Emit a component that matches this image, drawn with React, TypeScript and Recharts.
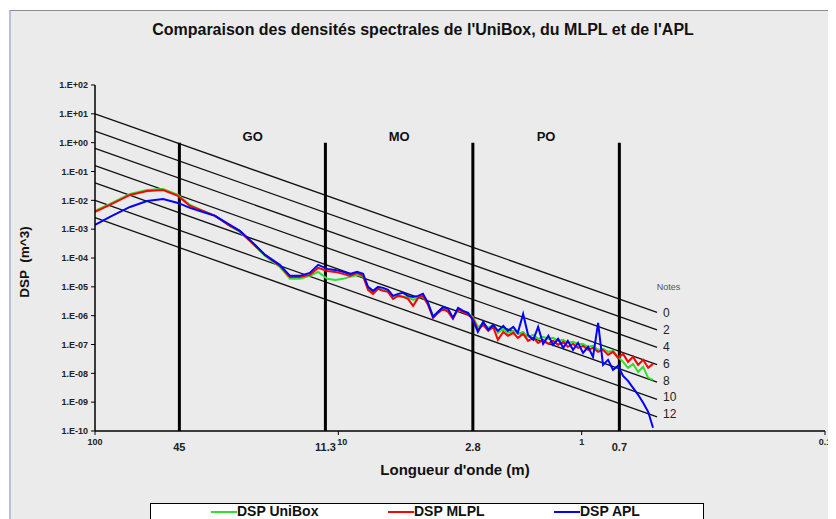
import React from 'react';
import { LineChart, Line, XAxis, YAxis, ReferenceLine, ReferenceDot } from 'recharts';

const WAVELENGTH = [100, 86.8, 71.8, 61.1, 52.5, 45.6, 40.7, 36.0, 32.1, 27.9,
  25.4, 23.1, 20.0, 17.4, 15.8, 14.4, 13.1, 12.1, 11.1, 10.3,
  9.57, 8.95, 8.38, 7.91, 7.55, 7.20, 6.87, 6.55, 6.25, 5.96,
  5.68, 5.42, 5.17, 4.93, 4.70, 4.49, 4.28, 4.08, 3.89, 3.71,
  3.54, 3.38, 3.22, 3.07, 2.93,
  2.80, 2.67, 2.54, 2.42, 2.31, 2.21, 2.10, 2.01, 1.91, 1.83,
  1.74, 1.66, 1.58, 1.51, 1.44, 1.37, 1.31, 1.25, 1.19, 1.14,
  1.085, 1.035, 0.987, 0.941, 0.898, 0.856, 0.817, 0.779, 0.743, 0.709,
  0.676, 0.645, 0.615, 0.586, 0.559, 0.533, 0.509];

const DSP_UNIBOX = [4.30e-3, 7.50e-3, 1.67e-2, 2.29e-2, 2.48e-2, 1.54e-2, 6.93e-3, 4.30e-3, 2.88e-3, 1.30e-3,
  8.04e-4, 3.92e-4, 1.18e-4, 4.92e-5, 1.89e-5, 1.89e-5, 2.40e-5, 3.30e-5, 1.89e-5, 1.74e-5,
  1.89e-5, 2.21e-5, 2.59e-5, 2.21e-5, 8.49e-6, 6.68e-6, 8.49e-6, 7.83e-6, 7.24e-6, 4.85e-6,
  5.26e-6, 4.49e-6, 4.49e-6, 3.53e-6, 4.14e-6, 4.49e-6, 2.56e-6, 9.84e-7, 1.36e-6, 1.86e-6,
  1.47e-6, 8.39e-7, 1.59e-6, 1.36e-6, 1.15e-6,
  9.08e-7, 4.09e-7, 5.20e-7, 3.78e-7, 4.80e-7, 2.54e-7, 3.48e-7, 2.54e-7, 2.97e-7, 2.34e-7,
  2.74e-7, 1.84e-7, 2.16e-7, 1.57e-7, 1.84e-7, 1.57e-7, 1.70e-7, 1.34e-7, 1.45e-7, 1.14e-7,
  1.24e-7, 1.05e-7, 1.05e-7, 8.30e-8, 8.98e-8, 6.53e-8, 7.06e-8, 5.56e-8, 6.03e-8, 3.73e-8,
  2.51e-8, 1.55e-8, 2.13e-8, 1.13e-8, 1.68e-8, 6.98e-9, 5.96e-9];

const DSP_MLPL = [3.96e-3, 6.93e-3, 1.54e-2, 2.12e-2, 2.29e-2, 1.42e-2, 6.40e-3, 4.30e-3, 2.88e-3, 1.30e-3,
  8.69e-4, 3.92e-4, 1.28e-4, 5.32e-5, 2.21e-5, 2.21e-5, 2.59e-5, 4.54e-5, 3.57e-5, 3.30e-5,
  2.81e-5, 2.40e-5, 3.05e-5, 2.40e-5, 7.83e-6, 5.70e-6, 8.49e-6, 7.24e-6, 6.68e-6, 3.82e-6,
  4.85e-6, 4.49e-6, 3.82e-6, 2.19e-6, 4.14e-6, 4.85e-6, 2.37e-6, 8.39e-7, 1.25e-6, 1.72e-6,
  1.36e-6, 7.74e-7, 1.72e-6, 1.36e-6, 1.07e-6,
  8.39e-7, 3.22e-7, 4.80e-7, 2.97e-7, 4.09e-7, 1.45e-7, 2.74e-7, 2.00e-7, 2.54e-7, 1.70e-7,
  2.34e-7, 1.34e-7, 1.70e-7, 1.14e-7, 1.45e-7, 1.05e-7, 1.34e-7, 9.73e-8, 1.24e-7, 8.30e-8,
  1.05e-7, 7.66e-8, 8.98e-8, 6.53e-8, 7.66e-8, 5.56e-8, 6.53e-8, 4.38e-8, 5.56e-8, 3.44e-8,
  4.74e-8, 2.51e-8, 3.73e-8, 1.97e-8, 2.94e-8, 1.55e-8, 2.13e-8];

const DSP_APL = [1.40e-3, 2.66e-3, 5.90e-3, 9.53e-3, 1.12e-2, 8.13e-3, 5.46e-3, 3.96e-3, 2.88e-3, 1.40e-3,
  8.69e-4, 4.24e-4, 1.28e-4, 5.77e-5, 2.40e-5, 2.40e-5, 3.05e-5, 5.77e-5, 4.19e-5, 3.87e-5,
  3.30e-5, 2.81e-5, 3.30e-5, 2.81e-5, 9.95e-6, 7.24e-6, 9.95e-6, 9.20e-6, 7.83e-6, 4.85e-6,
  5.70e-6, 6.17e-6, 4.85e-6, 4.49e-6, 4.85e-6, 5.70e-6, 2.78e-6, 9.08e-7, 1.36e-6, 2.02e-6,
  1.72e-6, 8.39e-7, 1.86e-6, 1.47e-6, 1.25e-6,
  7.14e-7, 2.74e-7, 6.10e-7, 3.22e-7, 4.80e-7, 2.97e-7, 4.43e-7, 2.97e-7, 4.09e-7, 2.54e-7,
  1.15e-6, 2.16e-7, 1.45e-7, 4.09e-7, 1.05e-7, 2.00e-7, 9.73e-8, 1.57e-7, 7.66e-8, 1.34e-7,
  6.53e-8, 1.14e-7, 5.14e-8, 8.30e-8, 3.73e-8, 5.62e-7, 1.97e-8, 2.94e-8, 1.32e-8, 1.82e-8,
  8.18e-9, 5.50e-9, 3.14e-9, 1.80e-9, 9.49e-10, 4.63e-10, 1.29e-10];

const X_DOMAIN = [0.1, 100];
const Y_DOMAIN = [1e-10, 100];
const ZONE_LIMITS = [45, 11.3, 2.8, 0.7];
const X_TICKS = [100, 45, 11.3, 10, 2.8, 1, 0.7, 0.1];
const Y_TICKS = [1e-10, 1e-9, 1e-8, 1e-7, 1e-6, 1e-5, 1e-4, 1e-3, 1e-2, 1e-1, 1, 10, 100];
const ZONE_TOP = 1;
const ZONE_NAMES = ['GO', 'MO', 'PO'];
const ZONE_LABEL_X = [22.5, 5.62, 1.4];
const ZONE_LABEL_Y = 1.7;
const NOTES = ['0', '2', '4', '6', '8', '10', '12'];
const NOTE_START_X = 100;
const NOTE_END_X = 0.49;
const NOTE_START = [10, 2.5, 0.63, 0.16, 0.04, 0.01, 0.0025];
const NOTE_END = [1.3e-6, 3.2e-7, 8.0e-8, 2.0e-8, 5.0e-9, 1.25e-9, 3.1e-10];
const NOTE_LABEL_X = 0.463;
const NOTE_LABEL_Y = [1.25e-6, 3.2e-7, 8.2e-8, 2.1e-8, 5.4e-9, 1.5e-9, 3.9e-10];
const NOTES_TITLE_X = 0.44;
const NOTES_TITLE_Y = 1e-5;

const SERIES = [
  { key: 'uni', name: 'DSP UniBox', color: '#2ee02e' },
  { key: 'mlpl', name: 'DSP MLPL', color: '#ff0000' },
  { key: 'apl', name: 'DSP APL', color: '#0000ff' },
];

const FONT = '"Liberation Sans", Arial, sans-serif';

const data = WAVELENGTH.map((x, i) => ({ x, uni: DSP_UNIBOX[i], mlpl: DSP_MLPL[i], apl: DSP_APL[i] }));

const fmtY = (v: number) => {
  const e = Math.round(Math.log10(v));
  return `1.E${e < 0 ? '-' : '+'}${String(Math.abs(e)).padStart(2, '0')}`;
};

const XTick = (props: any) => {
  const { x, y, payload } = props;
  const v = payload.value;
  if (ZONE_LIMITS.includes(v)) {
    return (
      <text x={x} y={y + 20} textAnchor="middle" fontSize={11} fontWeight="bold" fill="#222" fontFamily={FONT}>
        {String(v)}
      </text>
    );
  }
  const dx = v === 10 ? 4 : 0;
  return (
    <g>
      <line x1={x} x2={x} y1={y} y2={y + 4} stroke="#000" strokeWidth={1} />
      <text x={x + dx} y={y + 14} textAnchor="middle" fontSize={9} fontWeight="bold" fill="#222" fontFamily={FONT}>
        {String(v)}
      </text>
    </g>
  );
};

export default function App() {
  return (
    <div
      style={{
        position: 'relative',
        margin: '2px 0 0 1px',
        width: 825,
        height: 508,
        background: '#ebebeb',
        borderTop: '1px solid #8a8a8a',
        borderLeft: '2px solid #b3c1df',
        overflow: 'hidden',
        fontFamily: FONT,
      }}
    >
      <div style={{ position: 'absolute', left: 0, width: 824, top: 10, textAlign: 'center', fontSize: 16, fontWeight: 'bold', color: '#111' }}>
        Comparaison des densités spectrales de l'UniBox, du MLPL et de l'APL
      </div>
      <LineChart width={825} height={508} data={data} margin={{ top: 74, right: 11, left: 0, bottom: 48 }}>
        <XAxis
          dataKey="x"
          type="number"
          scale="log"
          domain={X_DOMAIN}
          allowDataOverflow
          reversed
          ticks={X_TICKS}
          interval={0}
          tick={<XTick />}
          tickLine={false}
          tickSize={0}
          tickMargin={0}
          axisLine={{ stroke: '#000', strokeWidth: 1.5 }}
          height={40}
        />
        <YAxis
          type="number"
          scale="log"
          domain={Y_DOMAIN}
          allowDataOverflow
          ticks={Y_TICKS}
          interval={0}
          tickFormatter={fmtY}
          width={84}
          tickSize={4}
          tickMargin={3}
          tickLine={{ stroke: '#000' }}
          axisLine={{ stroke: '#000', strokeWidth: 1.5 }}
          tick={{ fontSize: 9, fontWeight: 'bold', fill: '#222', fontFamily: FONT }}
        />
        {NOTES.map((n, i) => (
          <ReferenceLine
            key={'n' + n}
            segment={[{ x: NOTE_START_X, y: NOTE_START[i] }, { x: NOTE_END_X, y: NOTE_END[i] }]}
            stroke="#111"
            strokeWidth={1.3}
            ifOverflow="visible"
          />
        ))}
        {ZONE_LIMITS.map((z) => (
          <ReferenceLine
            key={'z' + z}
            segment={[{ x: z, y: ZONE_TOP }, { x: z, y: Y_DOMAIN[0] }]}
            stroke="#000"
            strokeWidth={3}
            ifOverflow="visible"
          />
        ))}
        {SERIES.map((s) => (
          <Line
            key={s.key}
            type="linear"
            dataKey={s.key}
            name={s.name}
            stroke={s.color}
            strokeWidth={2}
            dot={false}
            isAnimationActive={false}
          />
        ))}
        {ZONE_NAMES.map((z, i) => (
          <ReferenceDot
            key={'zl' + z}
            x={ZONE_LABEL_X[i]}
            y={ZONE_LABEL_Y}
            r={0}
            stroke="none"
            fill="none"
            label={{ value: z, position: 'center', fontSize: 13, fontWeight: 'bold', fill: '#111', fontFamily: FONT }}
          />
        ))}
        <ReferenceDot
          x={NOTES_TITLE_X}
          y={NOTES_TITLE_Y}
          r={0}
          stroke="none"
          fill="none"
          label={{ value: 'Notes', position: 'center', fontSize: 9, fill: '#555', fontFamily: FONT }}
        />
        {NOTES.map((n, i) => (
          <ReferenceDot
            key={'nl' + n}
            x={NOTE_LABEL_X}
            y={NOTE_LABEL_Y[i]}
            r={0}
            stroke="none"
            fill="none"
            label={{ value: n, position: 'right', offset: 0, fontSize: 12, fill: '#222', fontFamily: FONT }}
          />
        ))}
      </LineChart>
      <div
        style={{
          position: 'absolute',
          left: 13,
          top: 251,
          transform: 'translate(-50%, -50%) rotate(-90deg)',
          fontSize: 13.5,
          fontWeight: 'bold',
          color: '#111',
          whiteSpace: 'pre',
        }}
      >
        {'DSP  (m^3)'}
      </div>
      <div style={{ position: 'absolute', left: 444, top: 458, transform: 'translate(-50%, -50%)', fontSize: 15, fontWeight: 'bold', color: '#111', whiteSpace: 'nowrap' }}>
        Longueur d'onde (m)
      </div>
      <div
        style={{
          position: 'absolute',
          left: 139,
          top: 492,
          width: 552,
          height: 30,
          background: '#fff',
          border: '1px solid #000',
        }}
      >
        {SERIES.map((s, i) => {
          const lineLeft = [60, 237, 403][i];
          return (
            <React.Fragment key={s.key}>
              <div style={{ position: 'absolute', left: lineLeft, top: 7, width: 26, height: 2, background: s.color }} />
              <div style={{ position: 'absolute', left: lineLeft + 26, top: -1, fontSize: 14, lineHeight: '16px', fontWeight: 'bold', color: '#111', whiteSpace: 'nowrap' }}>
                {s.name}
              </div>
            </React.Fragment>
          );
        })}
      </div>
    </div>
  );
}
